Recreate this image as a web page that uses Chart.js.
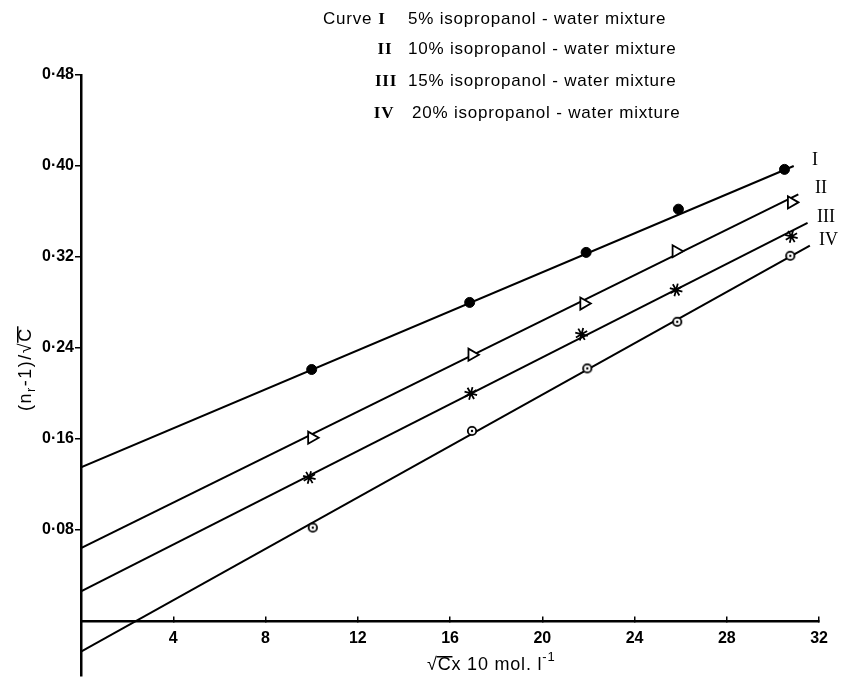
<!DOCTYPE html>
<html lang="en">
<head>
<meta charset="UTF-8">
<title>Isopropanol - water mixtures</title>
<script src="https://cdn.jsdelivr.net/npm/chart.js"></script>
<style>
  html, body { margin: 0; padding: 0; background: #fff; }
  #wrap { width: 842px; height: 686px; }
</style>
</head>
<body>
<div id="wrap"><canvas id="chart" width="842" height="686"></canvas></div>
<script>
// measured points: sqrt(C) x 10 against (n_r - 1)/sqrt(C)
const xI   = [10.0, 16.85, 21.9, 25.9, 30.5];
const yI   = [0.221, 0.280, 0.324, 0.362, 0.397];
const xII  = [10.0, 16.95, 21.8, 25.8, 30.8];
const yII  = [0.161, 0.234, 0.279, 0.325, 0.368];
const xIII = [9.9, 16.9, 21.7, 25.8, 30.8];
const yIII = [0.126, 0.200, 0.252, 0.291, 0.338];
const xIV  = [10.05, 16.95, 21.95, 25.85, 30.75];
const yIV  = [0.082, 0.167, 0.222, 0.263, 0.321];

// straight lines drawn through each set: value at x = 0 and where they stop
const fitStartY = [0.135, 0.064, 0.026, -0.027];
const fitEndX   = [30.9, 31.1, 31.5, 31.6];
const fitEndY   = [0.400, 0.375, 0.350, 0.330];

const curveNames = ['I', 'II', 'III', 'IV'];
const mixtures = ['5%', '10%', '15%', '20%'];

const xTicks = [4, 8, 12, 16, 20, 24, 28, 32];
const yTicks = [0.08, 0.16, 0.24, 0.32, 0.40, 0.48];

const xs = [xI, xII, xIII, xIV];
const ys = [yI, yII, yIII, yIV];

// open circle with a dot in the middle
function ringDot() {
  const c = document.createElement('canvas');
  c.width = 12; c.height = 12;
  const g = c.getContext('2d');
  g.fillStyle = '#fff';
  g.strokeStyle = '#000';
  g.lineWidth = 1.8;
  g.beginPath(); g.arc(6, 6, 4.2, 0, Math.PI * 2); g.fill(); g.stroke();
  g.fillStyle = '#000';
  g.beginPath(); g.arc(6, 6, 1.2, 0, Math.PI * 2); g.fill();
  return c;
}

const markers = [
  { pointStyle: 'circle', radius: 5, rotation: 0, fill: '#000', border: 1 },
  { pointStyle: 'triangle', radius: 7, rotation: 90, fill: '#fff', border: 1.8 },
  { pointStyle: 'star', radius: 6.5, rotation: 15, fill: '#000', border: 1.8 },
  { pointStyle: ringDot(), radius: 6, rotation: 0, fill: '#fff', border: 1.8 }
];

const datasets = [];
curveNames.forEach((name, i) => {
  datasets.push({
    label: 'fit ' + name,
    data: [{ x: 0, y: fitStartY[i] }, { x: fitEndX[i], y: fitEndY[i] }],
    showLine: true,
    borderColor: '#000',
    borderWidth: 2,
    pointRadius: 0,
    order: 2
  });
});
curveNames.forEach((name, i) => {
  const m = markers[i];
  datasets.push({
    label: name,
    data: xs[i].map((x, k) => ({ x: x, y: ys[i][k] })),
    showLine: false,
    pointStyle: m.pointStyle,
    pointRadius: m.radius,
    pointRotation: m.rotation,
    pointBackgroundColor: m.fill,
    pointBorderColor: '#000',
    pointBorderWidth: m.border,
    order: 1
  });
});

const tickFont = { family: 'Liberation Sans', size: 16, weight: 'bold' };

// run of text pieces, each with its own font and vertical shift
function drawRun(ctx, parts, x, y) {
  for (const p of parts) {
    ctx.font = p.font;
    ctx.fillText(p.t, x, y + (p.dy || 0));
    const w = ctx.measureText(p.t).width;
    if (p.bar) ctx.fillRect(x - 1, y - p.bar, w + 2, 1.5);
    x += w;
  }
  return x;
}

const annotate = {
  id: 'annotate',
  afterDraw(chart) {
    const ctx = chart.ctx;
    const sy = chart.scales.y;
    ctx.save();
    ctx.fillStyle = '#000';
    ctx.textBaseline = 'alphabetic';

    // key in the upper part of the plot
    const rowY = [24, 54, 86, 118];
    const numX = [382, 385, 386, 384];
    const textX = [408, 408, 408, 412];
    const sans = '17px "Liberation Sans"';
    const serif = 'bold 17px "Liberation Serif"';
    ctx.letterSpacing = '0.8px';
    ctx.textAlign = 'left';
    ctx.font = sans;
    ctx.fillText('Curve', 323, rowY[0]);
    curveNames.forEach((name, i) => {
      ctx.font = serif;
      ctx.textAlign = 'center';
      ctx.fillText(name, numX[i], rowY[i]);
      ctx.font = sans;
      ctx.textAlign = 'left';
      ctx.fillText(mixtures[i] + ' isopropanol - water mixture', textX[i], rowY[i]);
    });
    ctx.letterSpacing = '0px';

    // curve names at the end of each line
    ctx.font = '18px "Liberation Serif"';
    ctx.textAlign = 'left';
    const labelX = [812, 815, 817, 819];
    curveNames.forEach((name, i) => {
      const py = sy.getPixelForValue(fitEndY[i]);
      ctx.fillText(name, labelX[i], py - 1);
    });

    // y-axis title, read upward
    const f = '18px "Liberation Sans"';
    ctx.letterSpacing = '1.5px';
    ctx.save();
    ctx.translate(31, 411);
    ctx.rotate(-Math.PI / 2);
    drawRun(ctx, [
      { t: '(n', font: f },
      { t: 'r', font: '13px "Liberation Sans"', dy: 4 },
      { t: '-1)/', font: f },
      { t: '\u221A', font: f },
      { t: 'C', font: f, bar: 14 }
    ], 0, 0);
    ctx.restore();

    // x-axis title
    ctx.letterSpacing = '0.8px';
    drawRun(ctx, [
      { t: '\u221A', font: f },
      { t: 'C', font: f, bar: 14 },
      { t: 'x 10 mol. l', font: f },
      { t: '-1', font: '13px "Liberation Sans"', dy: -9 }
    ], 427, 670);

    ctx.restore();
  }
};

new Chart(document.getElementById('chart'), {
  type: 'scatter',
  data: { datasets: datasets },
  options: {
    responsive: false,
    animation: false,
    devicePixelRatio: 1,
    layout: { padding: { top: 75, right: 22, bottom: 0, left: 0 } },
    plugins: {
      legend: { display: false },
      tooltip: { enabled: false }
    },
    scales: {
      x: {
        type: 'linear',
        min: 0,
        max: 32,
        position: { y: 0 },
        border: { color: '#000', width: 2.5 },
        grid: { drawOnChartArea: false, color: '#000', lineWidth: 1.5, tickLength: -6 },
        ticks: { color: '#000', font: tickFont, padding: 14, maxRotation: 0 },
        afterBuildTicks: s => { s.ticks = xTicks.map(v => ({ value: v })); }
      },
      y: {
        type: 'linear',
        min: -0.048,
        max: 0.48,
        position: 'left',
        border: { color: '#000', width: 2.5 },
        grid: { drawOnChartArea: false, color: '#000', lineWidth: 1.5, tickLength: 6 },
        ticks: {
          color: '#000',
          font: tickFont,
          padding: 1,
          callback: v => v.toFixed(2).replace('.', '\u00B7')
        },
        afterBuildTicks: s => { s.ticks = yTicks.map(v => ({ value: v })); },
        afterFit: s => { s.width = 81; }
      }
    }
  },
  plugins: [annotate]
});
</script>
</body>
</html>
